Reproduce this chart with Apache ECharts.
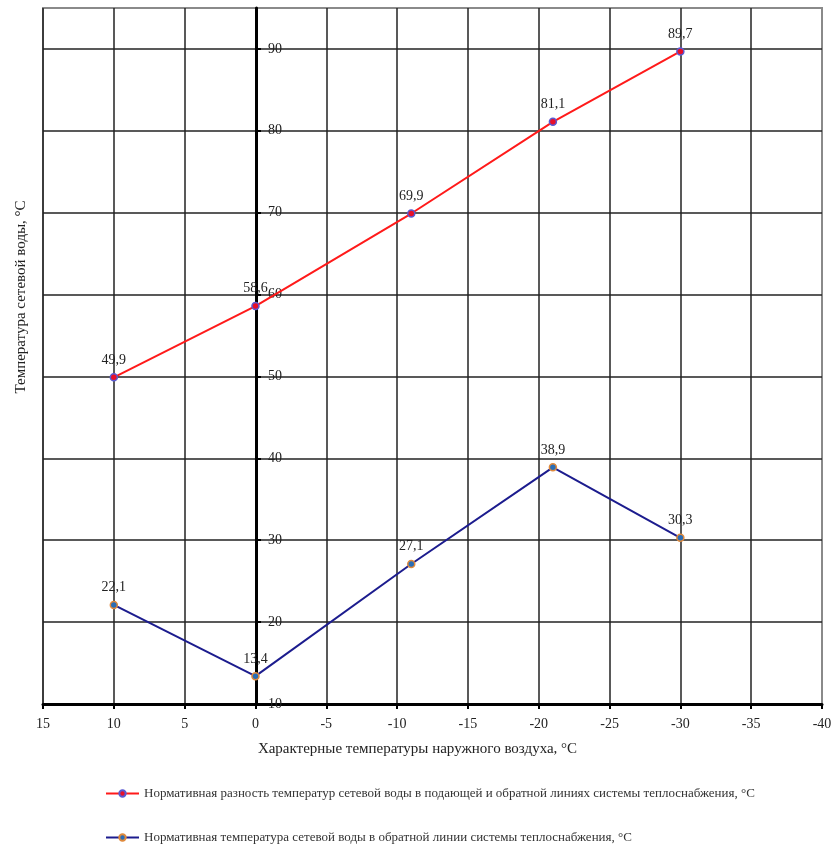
<!DOCTYPE html>
<html lang="ru">
  <head>
    <meta charset="UTF-8" />
    <title>Температурный график</title>
    <script src="https://cdn.jsdelivr.net/npm/echarts@6/dist/echarts.min.js"></script>
    <style>
      body {
        margin: 0;
        background: #fff;
      }
      #chart {
        width: 840px;
        height: 850px;
      }
    </style>
  </head>
  <body>
    <div id="chart"></div>

    <script>
      // температуры наружного воздуха, °C
      var outdoorTemps = [10, 0, -11, -21, -30];
      // разность температур сетевой воды
      var diffTemps = [49.9, 58.6, 69.9, 81.1, 89.7];
      // температура в обратной линии
      var returnTemps = [22.1, 13.4, 27.1, 38.9, 30.3];

      var seriesNames = [
        "Нормативная разность температур сетевой воды в подающей и обратной линиях системы теплоснабжения, °С",
        "Нормативная температура сетевой воды в обратной линии системы теплоснабжения, °С",
      ];
      var xAxisName = "Характерные температуры наружного воздуха, °С";
      var yAxisName = "Температура сетевой воды, °С";

      var serif = "'Liberation Serif', 'DejaVu Serif', serif";

      function pairs(xs, ys) {
        return xs.map(function (x, i) {
          return [x, ys[i]];
        });
      }

      function fmt(p) {
        return String(p.value[1]).replace(".", ",");
      }

      var chart = echarts.init(document.getElementById("chart"));

      var option = {
        backgroundColor: "#fff",
        animation: false,
        grid: {
          left: 43,
          right: 18,
          top: 8,
          bottom: 146,
          show: true,
          borderColor: "#8a8a8a",
          borderWidth: 2,
        },
        xAxis: {
          type: "value",
          inverse: true,
          min: -40,
          max: 15,
          interval: 5,
          name: xAxisName,
          nameLocation: "middle",
          nameGap: 38,
          nameTextStyle: {
            fontFamily: serif,
            fontSize: 15,
            color: "#222",
            padding: [0, 30, 0, 0],
          },
          axisLine: {
            onZero: false,
            lineStyle: { color: "#000", width: 3 },
          },
          axisTick: {
            length: 5,
            lineStyle: { color: "#000", width: 2 },
          },
          axisLabel: {
            fontFamily: serif,
            fontSize: 14,
            color: "#222",
            margin: 13,
          },
          splitLine: {
            show: true,
            showMinLine: false,
            lineStyle: { color: "#222", width: 1.5 },
          },
        },
        yAxis: {
          type: "value",
          min: 10,
          max: 95,
          interval: 10,
          // ось проходит через 0 °C (15 делений по 14.2px от левого края)
          offset: -213,
          axisLine: {
            onZero: false,
            lineStyle: { color: "#000", width: 3 },
          },
          axisTick: {
            inside: true,
            length: 5,
            lineStyle: { color: "#000", width: 2 },
          },
          axisLabel: {
            inside: true,
            showMaxLabel: false,
            fontFamily: serif,
            fontSize: 14,
            color: "#222",
            margin: 12,
          },
          splitLine: {
            show: true,
            showMaxLine: false,
            lineStyle: { color: "#222", width: 1.5 },
          },
        },
        legend: {
          orient: "vertical",
          left: 100,
          top: 782,
          itemWidth: 33,
          itemHeight: 8,
          itemGap: 31,
          textStyle: {
            fontFamily: serif,
            fontSize: 13,
            color: "#333",
          },
          data: seriesNames,
        },
        graphic: [
          {
            type: "text",
            x: 14,
            y: 297,
            rotation: Math.PI / 2,
            style: {
              text: yAxisName,
              font: "15px " + serif,
              fill: "#222",
              textAlign: "center",
              textVerticalAlign: "top",
            },
          },
        ],
        series: [
          {
            name: seriesNames[0],
            type: "line",
            data: pairs(outdoorTemps, diffTemps),
            lineStyle: { color: "#ff1a1a", width: 2 },
            symbol: "circle",
            symbolSize: 7,
            itemStyle: {
              color: "#e8102a",
              borderColor: "#5a5ad2",
              borderWidth: 1.5,
            },
            label: {
              show: true,
              position: "top",
              distance: 6,
              fontFamily: serif,
              fontSize: 14,
              color: "#222",
              formatter: fmt,
            },
            z: 5,
          },
          {
            name: seriesNames[1],
            type: "line",
            data: pairs(outdoorTemps, returnTemps),
            lineStyle: { color: "#1c1c8e", width: 2 },
            symbol: "circle",
            symbolSize: 7,
            itemStyle: {
              color: "#2a6db5",
              borderColor: "#e08a3c",
              borderWidth: 1.5,
            },
            label: {
              show: true,
              position: "top",
              distance: 6,
              fontFamily: serif,
              fontSize: 14,
              color: "#222",
              formatter: fmt,
            },
            z: 5,
          },
        ],
      };

      chart.setOption(option);
    </script>
  </body>
</html>
